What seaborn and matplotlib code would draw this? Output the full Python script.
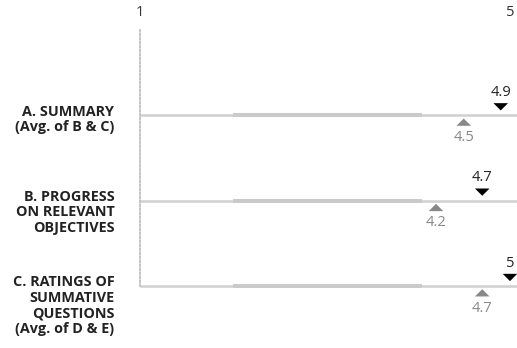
import matplotlib
matplotlib.use("Agg")
import matplotlib.pyplot as plt
import matplotlib.transforms as mtransforms
import seaborn as sns
import pandas as pd

categories = ["A. SUMMARY\n(Avg. of B & C)",
              "B. PROGRESS\nON RELEVANT\nOBJECTIVES",
              "C. RATINGS OF\nSUMMATIVE\nQUESTIONS\n(Avg. of D & E)"]
your_scores = [4.9, 4.7, 5.0]
comparison_scores = [4.5, 4.2, 4.7]
band_low = [2.0, 2.0, 2.0]
band_high = [4.05, 4.05, 4.05]
scale_min, scale_max = 1, 5
line_end = 5.1
tick_labels = ["1", "5"]

sns.set_style("white")
plt.rcParams['font.family'] = ['Open Sans', 'DejaVu Sans']

W, H = 517, 348
fig = plt.figure(figsize=(W / 100, H / 100), dpi=100)
ax = fig.add_axes([140 / W, 1 - 286 / H, (510 - 140) / W, (286 - 30) / H])

idx = list(range(len(categories)))
df = pd.DataFrame({"pos": idx, "yours": your_scores, "comp": comparison_scores})

# base lines and band
ax.hlines(idx, scale_min, line_end, color="#d0d0d0", lw=1.8, zorder=1, clip_on=False)
ax.hlines(idx, band_low, band_high, color="#cacaca", lw=2.9, zorder=1, clip_on=False)

down_tri = [(-1, 0.5), (1, 0.5), (0, -0.5)]
up_tri = [(-1, -0.5), (1, -0.5), (0, 0.5)]
df["y_top"] = df["pos"] - 0.10
df["y_bot"] = df["pos"] + 0.08
sns.scatterplot(data=df, x="yours", y="y_top", marker=down_tri, s=110,
                color="black", edgecolor="none", ax=ax, clip_on=False, zorder=3)
sns.scatterplot(data=df, x="comp", y="y_bot", marker=up_tri, s=110,
                color="#888888", edgecolor="none", ax=ax, clip_on=False, zorder=3)

for i, (v, c) in enumerate(zip(your_scores, comparison_scores)):
    ax.annotate(f"{v:g}", (v, i), xytext=(0, 16.5), textcoords="offset points",
                ha="center", va="center", fontsize=10.5, color="#222222",
                annotation_clip=False)
    ax.annotate(f"{c:g}", (c, i), xytext=(0, -16), textcoords="offset points",
                ha="center", va="center", fontsize=10.5, color="#888888",
                annotation_clip=False)

ax.set_xlim(scale_min, scale_max)
ax.set_ylim(2, -1)
ax.set_xlabel("")
ax.set_ylabel("")

ax.xaxis.tick_top()
ax.set_xticks([scale_min, scale_max])
ax.set_xticklabels(tick_labels, fontsize=10.5, color="#333333")
ax.tick_params(axis="x", length=0, pad=7.5)

ax.set_yticks(idx)
ax.set_yticklabels(categories, fontsize=10.4, fontweight="bold", color="#222222",
                   linespacing=1.15)
ax.tick_params(axis="y", length=0, pad=18.5)
offset = mtransforms.ScaledTranslation(0, 7.8 / 72, fig.dpi_scale_trans)
for lab in ax.get_yticklabels():
    lab.set_va("top")
    lab.set_ha("right")
    lab.set_multialignment("right")
    lab.set_transform(lab.get_transform() + offset)

for s in ["top", "right", "bottom"]:
    ax.spines[s].set_visible(False)
ax.spines["left"].set_color("#c0c0c0")
ax.spines["left"].set_linestyle((0, (1, 1.2)))
ax.spines["left"].set_linewidth(1.3)

fig.savefig("out.png", dpi=100)
